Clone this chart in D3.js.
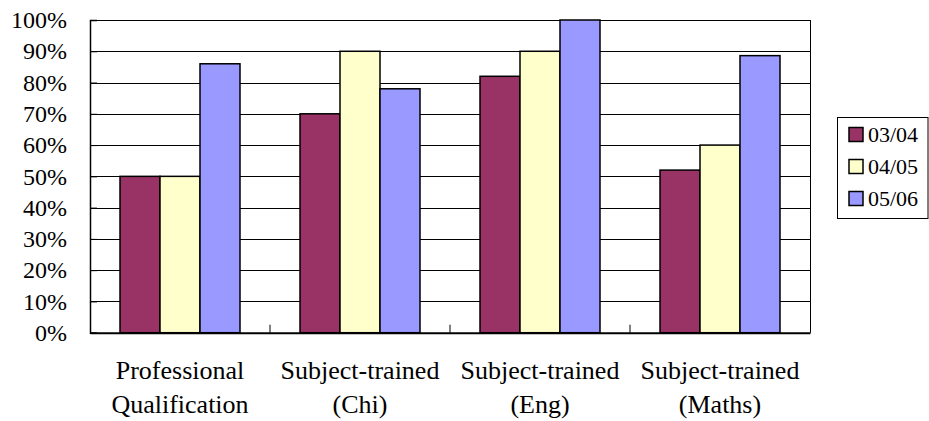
<!DOCTYPE html>
<html><head><meta charset="utf-8">
<script src="https://cdn.jsdelivr.net/npm/d3@7"></script>
<style>body{margin:0;background:#fff}svg{display:block}</style>
</head><body>
<svg id="c" width="929" height="421"></svg>
<script>
const categories = [["Professional","Qualification"],["Subject-trained","(Chi)"],["Subject-trained","(Eng)"],["Subject-trained","(Maths)"]];
const seriesNames = ["03/04","04/05","05/06"];
const s0304 = [50, 70, 82, 52];
const s0405 = [50, 90, 90, 60];
const s0506 = [86, 78, 100, 88.6];
const seriesValues = [s0304, s0405, s0506];
const colors = ["#993366","#FFFFCC","#9999FF"];
const yTicks = [0,10,20,30,40,50,60,70,80,90,100];

const FONT = "'Liberation Serif', Tinos, 'Times New Roman', 'Nimbus Roman', 'DejaVu Serif', serif";
const svg = d3.select("#c");
const L = 90, R = 810, T = 20, B = 332.7;
const x = d3.scaleBand().domain(d3.range(categories.length)).range([L, R]).paddingInner(0).paddingOuter(0);
const xs = d3.scaleBand().domain(d3.range(seriesNames.length)).range([0, x.bandwidth()]).paddingOuter(0.75).paddingInner(0);
const y = d3.scaleLinear().domain([0,100]).range([B, T]);

// gridlines
svg.append("g").selectAll("line").data(yTicks).join("line")
  .attr("x1", L).attr("x2", R)
  .attr("y1", d => Math.round(y(d)) + 0.5).attr("y2", d => Math.round(y(d)) + 0.5)
  .attr("stroke", "#000").attr("stroke-width", 1);

// right border
svg.append("line").attr("x1", R+0.5).attr("x2", R+0.5).attr("y1", T).attr("y2", B).attr("stroke","#000");

// bars
const g = svg.append("g");
seriesValues.forEach((vals, si) => {
  g.append("g").selectAll("rect").data(vals).join("rect")
    .attr("x", (d, i) => x(i) + xs(si))
    .attr("y", d => y(d))
    .attr("width", xs.bandwidth())
    .attr("height", d => B - y(d))
    .attr("fill", colors[si])
    .attr("stroke", "#000").attr("stroke-width", 1.5);
});

// y axis
const ya = d3.axisLeft(y).tickValues(yTicks).tickFormat(d => d + "%").tickSize(-7).tickPadding(23);
const yg = svg.append("g").attr("transform", `translate(${L},0)`).call(ya);
yg.attr("font-family", null).attr("font-size", null);
yg.select(".domain").attr("stroke", "#000").attr("stroke-width", 1.5);
yg.selectAll("text").style("font-family", FONT).style("font-size", "24px").attr("fill", "#000");

// x axis
const xa = d3.axisBottom(x).tickSize(0).tickFormat("");
const xg = svg.append("g").attr("transform", `translate(0,${B})`).call(xa);
xg.select(".domain").attr("stroke", "#000").attr("stroke-width", 2);
// inside category separator ticks
svg.append("g").selectAll("line").data(d3.range(1, categories.length)).join("line")
  .attr("x1", d => x(d)).attr("x2", d => x(d)).attr("y1", B - 8).attr("y2", B)
  .attr("stroke", "#000");

// category labels
const lab = svg.append("g").selectAll("text").data(categories).join("text")
  .attr("text-anchor", "middle")
  .style("font-family", FONT)
  .style("font-size", "26px");
lab.each(function(d, i){
  const t = d3.select(this);
  d.forEach((line, li) => {
    t.append("tspan").attr("x", x(i) + x.bandwidth()/2).attr("y", 379 + li*34).text(line);
  });
});

// legend
const lg = svg.append("g");
lg.append("rect").attr("x", 837.5).attr("y", 117.5).attr("width", 90.5).attr("height", 101)
  .attr("fill", "#fff").attr("stroke", "#000").attr("stroke-width", 1);
seriesNames.forEach((n, i) => {
  lg.append("rect").attr("x", 849).attr("y", 127.5 + i*32).attr("width", 14).attr("height", 14)
    .attr("fill", colors[i]).attr("stroke", "#000").attr("stroke-width", 1.5);
  lg.append("text").attr("x", 868).attr("y", 142 + i*32)
    .style("font-family", FONT).style("font-size", "22px").text(n);
});
</script>
</body></html>
